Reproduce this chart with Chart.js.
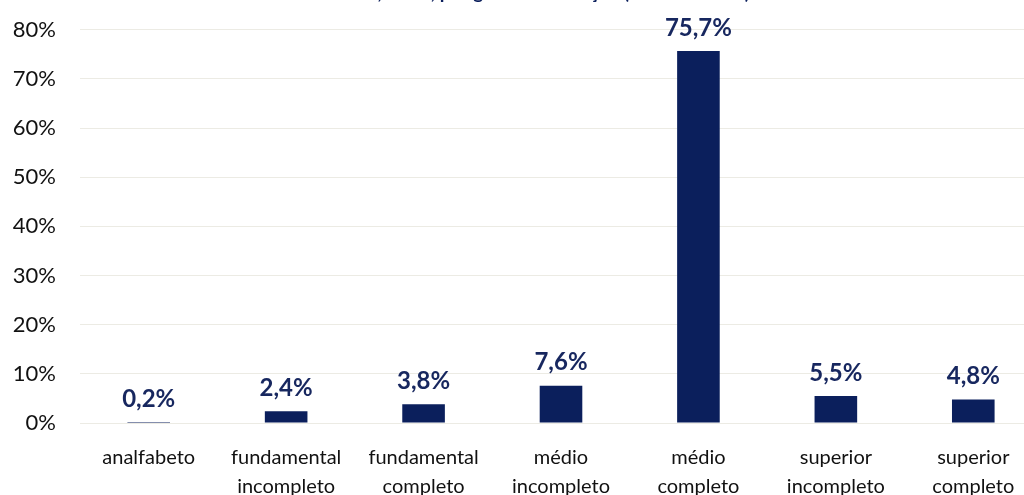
<!DOCTYPE html>
<html lang="pt-BR">
<head>
<meta charset="utf-8">
<title>Grau de instrução</title>
<script src="https://cdn.jsdelivr.net/npm/chart.js@4"></script>
<style>
  html, body { margin: 0; padding: 0; background: #fff; overflow: hidden; }
  #wrap { position: absolute; left: 0; top: -20px; width: 1042px; height: 515px; }
</style>
</head>
<body>
<div id="wrap"><canvas id="grafico"></canvas></div>
<script>
const titulo = 'novembro, 2023, por grau de instrução (em % do total)';
const categorias = [
  'analfabeto',
  ['fundamental', 'incompleto'],
  ['fundamental', 'completo'],
  ['médio', 'incompleto'],
  ['médio', 'completo'],
  ['superior', 'incompleto'],
  ['superior', 'completo']
];
const valores = [0.2, 2.4, 3.8, 7.6, 75.7, 5.5, 4.8];
const eixoMax = 80;
const eixoPasso = 10;

const azul = '#0b1f5c';
const fonte = 'Lato, "Open Sans", sans-serif';

const fmt = v => v.toFixed(1).replace('.', ',') + '%';

// rótulos de valor acima de cada barra
const rotulos = {
  id: 'rotulos',
  afterDatasetsDraw(chart) {
    const { ctx } = chart;
    const meta = chart.getDatasetMeta(0);
    ctx.save();
    ctx.fillStyle = '#17275f';
    ctx.font = 'bold 24px ' + fonte;
    ctx.textAlign = 'center';
    ctx.textBaseline = 'bottom';
    meta.data.forEach((bar, i) => {
      ctx.fillText(fmt(valores[i]), bar.x, bar.y - 11);
    });
    ctx.restore();
  }
};

const ctx = document.querySelector('#grafico').getContext('2d');

new Chart(ctx, {
  type: 'bar',
  data: {
    labels: categorias,
    datasets: [{
      data: valores,
      backgroundColor: azul,
      borderWidth: 0,
      barPercentage: 0.31,
      categoryPercentage: 1
    }]
  },
  options: {
    responsive: true,
    maintainAspectRatio: false,
    animation: false,
    layout: { padding: { left: 0, right: 0, top: 0, bottom: 0 } },
    scales: {
      y: {
        min: 0,
        max: eixoMax,
        ticks: {
          stepSize: eixoPasso,
          padding: 24,
          color: '#111',
          font: { family: fonte, size: 22 },
          callback: v => v + '%'
        },
        grid: { color: '#ecebe4', drawTicks: false },
        border: { display: false },
        afterFit: s => { s.width = 80; }
      },
      x: {
        ticks: {
          padding: 12,
          color: '#111',
          font: { family: fonte, size: 20, lineHeight: 1.45 },
          maxRotation: 0,
          autoSkip: false
        },
        grid: { display: false },
        border: { display: false },
        afterFit: s => { s.height = 72; }
      }
    },
    plugins: {
      legend: { display: false },
      tooltip: { enabled: false },
      title: {
        display: true,
        text: titulo,
        color: '#0b1f5c',
        font: { family: fonte, size: 19, weight: 'bold', lineHeight: 1.2 },
        padding: { top: 1, bottom: 26 }
      }
    }
  },
  plugins: [rotulos]
});
</script>
</body>
</html>
